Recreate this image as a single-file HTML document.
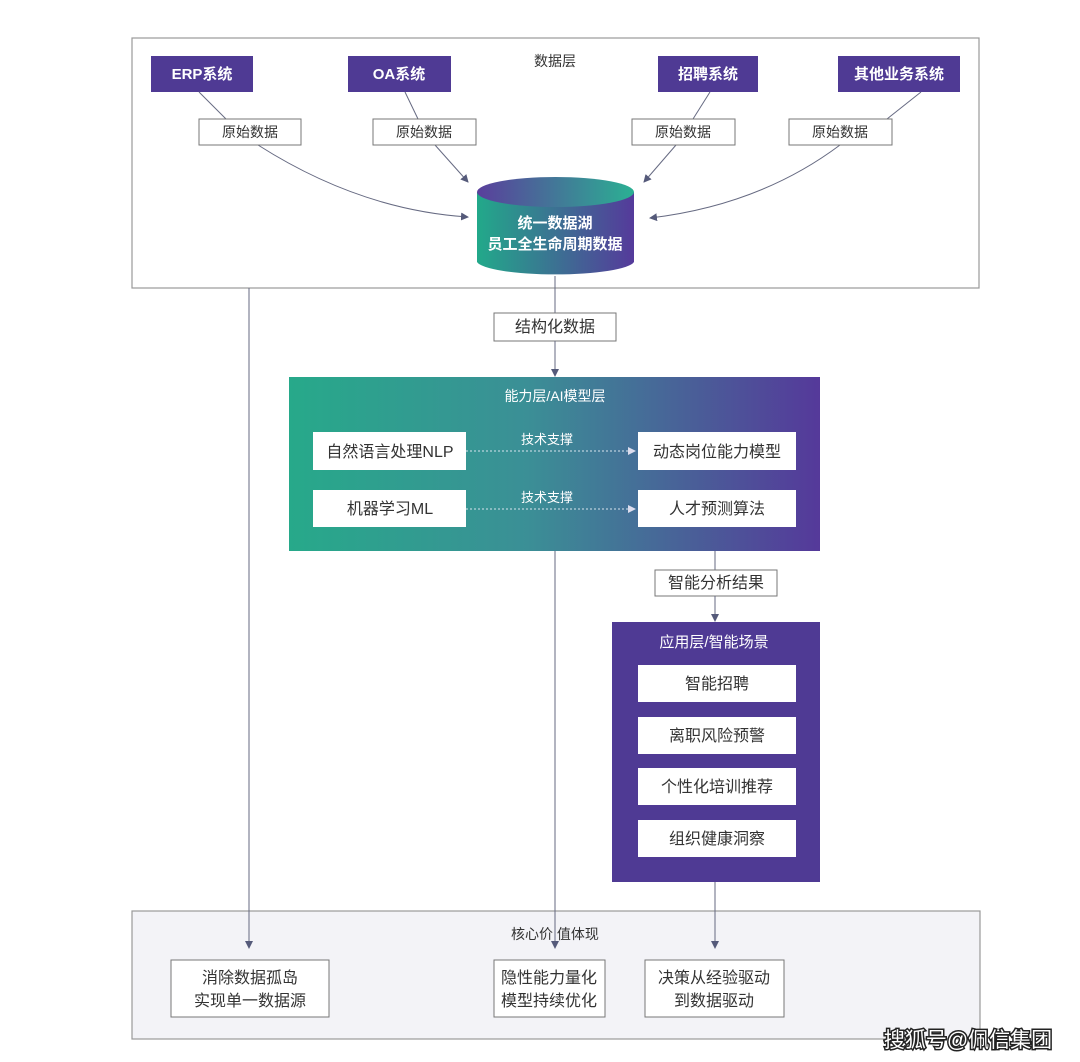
<!DOCTYPE html>
<html><head><meta charset="utf-8"><style>
html,body{margin:0;padding:0;background:#fff;}
svg{display:block;font-family:"Liberation Sans","Noto Sans CJK SC",sans-serif;}
</style></head><body>
<svg width="1080" height="1062" viewBox="0 0 1080 1062" xmlns="http://www.w3.org/2000/svg">
<defs>
<linearGradient id="g1" x1="0" x2="1" y1="0" y2="0"><stop offset="0" stop-color="#27a98a"/><stop offset="0.45" stop-color="#3b8f96"/><stop offset="1" stop-color="#55399a"/></linearGradient>
<linearGradient id="g2" x1="0" x2="1"><stop offset="0" stop-color="#5a3f9c"/><stop offset="1" stop-color="#2bb093"/></linearGradient>
<linearGradient id="g3" x1="0" x2="1"><stop offset="0" stop-color="#22a98a"/><stop offset="1" stop-color="#553a9b"/></linearGradient>
<marker id="a" markerWidth="8" markerHeight="8" refX="7" refY="4" orient="auto" markerUnits="userSpaceOnUse"><path d="M0,0 L8,4 L0,8 z" fill="#555a7a"/></marker>
</defs>
<style>
.pl{fill:#4f3a94}
.wt{fill:#fff;font-size:15px;font-weight:bold;text-anchor:middle}
.wn{fill:#fff;font-weight:normal;text-anchor:middle}
.bx{fill:#fff;stroke:#777;stroke-width:1}
.t{fill:#333;font-size:14px;text-anchor:middle}
.t2{fill:#333;font-size:16px;text-anchor:middle}
.ln{stroke:#666a82;stroke-width:1;fill:none}
</style>
<rect x="132" y="38" width="847" height="250" fill="#fff" stroke="#999" stroke-width="1.2"/>
<text x="555" y="66" class="t" font-size="13">数据层</text>
<rect x="151" y="56" width="102" height="36" class="pl"/><text x="202" y="79" class="wt">ERP系统</text>
<rect x="348" y="56" width="103" height="36" class="pl"/><text x="399" y="79" class="wt">OA系统</text>
<rect x="658" y="56" width="100" height="36" class="pl"/><text x="708" y="79" class="wt">招聘系统</text>
<rect x="838" y="56" width="122" height="36" class="pl"/><text x="899" y="79" class="wt">其他业务系统</text>
<path class="ln" d="M199,92 L226,119"/>
<path class="ln" d="M405,92 L418,119"/>
<path class="ln" d="M710,92 L693,119"/>
<path class="ln" d="M921,92 L887,119"/>
<path class="ln" marker-end="url(#a)" d="M258,145 Q360,210 468,217"/>
<path class="ln" marker-end="url(#a)" d="M435,145 L468,182"/>
<path class="ln" marker-end="url(#a)" d="M676,145 L644,182"/>
<path class="ln" marker-end="url(#a)" d="M840,145 Q760,205 650,218"/>
<rect x="199" y="119" width="102" height="26" class="bx"/><text x="250" y="137" class="t">原始数据</text>
<rect x="373" y="119" width="103" height="26" class="bx"/><text x="424" y="137" class="t">原始数据</text>
<rect x="632" y="119" width="103" height="26" class="bx"/><text x="683" y="137" class="t">原始数据</text>
<rect x="789" y="119" width="103" height="26" class="bx"/><text x="840" y="137" class="t">原始数据</text>
<path d="M477,192 L477,262 A79,14 0 0 0 634,262 L634,192 z" fill="url(#g3)"/>
<ellipse cx="555.5" cy="192" rx="78.5" ry="15" fill="url(#g2)"/>
<text x="555" y="228" class="wt" font-size="14">统一数据湖</text>
<text x="555" y="249" class="wt" font-size="14">员工全生命周期数据</text>
<path class="ln" d="M555,276 L555,313"/>
<rect x="494" y="313" width="122" height="28" class="bx"/><text x="555" y="332" class="t2" font-size="15">结构化数据</text>
<path class="ln" marker-end="url(#a)" d="M555,341 L555,376"/>
<path class="ln" marker-end="url(#a)" d="M249,288 L249,948"/>
<rect x="289" y="377" width="531" height="174" fill="url(#g1)"/>
<text x="555" y="401" class="wn" font-size="14">能力层/AI模型层</text>
<rect x="313" y="432" width="153" height="38" fill="#fff"/><text x="390" y="457" class="t2" font-size="15">自然语言处理NLP</text>
<rect x="313" y="490" width="153" height="37" fill="#fff"/><text x="390" y="514" class="t2" font-size="15">机器学习ML</text>
<rect x="638" y="432" width="158" height="38" fill="#fff"/><text x="717" y="457" class="t2" font-size="15">动态岗位能力模型</text>
<rect x="638" y="490" width="158" height="37" fill="#fff"/><text x="717" y="514" class="t2" font-size="15">人才预测算法</text>
<text x="547" y="444" class="wn" font-size="13">技术支撑</text>
<text x="547" y="502" class="wn" font-size="13">技术支撑</text>
<path d="M466,451 L634,451" stroke="#d8e4ee" stroke-dasharray="2,2" fill="none"/>
<path d="M628,447 L636,451 L628,455z" fill="#dde"/>
<path d="M466,509 L634,509" stroke="#d8e4ee" stroke-dasharray="2,2" fill="none"/>
<path d="M628,505 L636,509 L628,513z" fill="#dde"/>
<path class="ln" marker-end="url(#a)" d="M555,551 L555,948"/>
<path class="ln" d="M715,551 L715,570"/>
<rect x="655" y="570" width="122" height="26" class="bx"/><text x="716" y="588" class="t2" font-size="15">智能分析结果</text>
<path class="ln" marker-end="url(#a)" d="M715,596 L715,621"/>
<rect x="612" y="622" width="208" height="260" class="pl"/>
<text x="714" y="647" class="wn" font-size="15">应用层/智能场景</text>
<rect x="638" y="665" width="158" height="37" fill="#fff"/><text x="717" y="689" class="t2" font-size="15">智能招聘</text>
<rect x="638" y="717" width="158" height="37" fill="#fff"/><text x="717" y="741" class="t2" font-size="15">离职风险预警</text>
<rect x="638" y="768" width="158" height="37" fill="#fff"/><text x="717" y="792" class="t2" font-size="15">个性化培训推荐</text>
<rect x="638" y="820" width="158" height="37" fill="#fff"/><text x="717" y="844" class="t2" font-size="15">组织健康洞察</text>
<rect x="132" y="911" width="848" height="128" fill="#f3f3f7" stroke="#999" stroke-width="1.2"/>
<path class="ln" marker-end="url(#a)" d="M249,880 L249,948"/>
<path class="ln" marker-end="url(#a)" d="M555,880 L555,948"/>
<path class="ln" marker-end="url(#a)" d="M715,882 L715,948"/>
<text x="555" y="939" class="t" font-size="13">核心价 值体现</text>
<rect x="171" y="960" width="158" height="57" class="bx"/><text x="250" y="983" class="t2" font-size="15">消除数据孤岛</text><text x="250" y="1006" class="t2" font-size="15">实现单一数据源</text>
<rect x="494" y="960" width="111" height="57" class="bx"/><text x="549" y="983" class="t2" font-size="15">隐性能力量化</text><text x="549" y="1006" class="t2" font-size="15">模型持续优化</text>
<rect x="645" y="960" width="139" height="57" class="bx"/><text x="714" y="983" class="t2" font-size="15">决策从经验驱动</text><text x="714" y="1006" class="t2" font-size="15">到数据驱动</text>
<text x="968" y="1047" font-size="21" text-anchor="middle" fill="#fff" stroke="#222" stroke-width="3" paint-order="stroke">搜狐号@佩信集团</text>
</svg>
</body></html>
